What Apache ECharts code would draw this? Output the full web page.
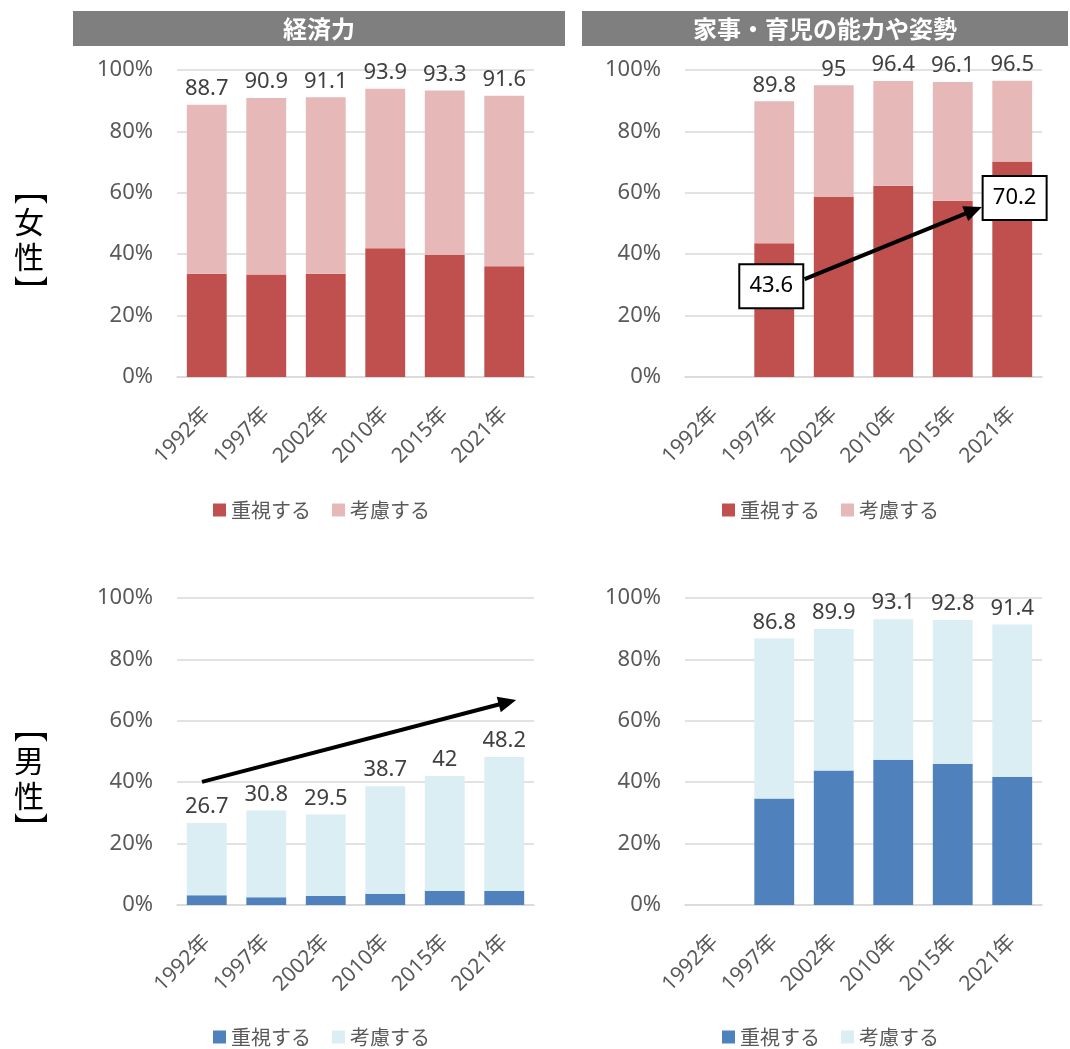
<!DOCTYPE html>
<html><head><meta charset="utf-8">
<script src="https://cdn.jsdelivr.net/npm/echarts@6/dist/echarts.min.js"></script>
<style>html,body{margin:0;padding:0;background:#fff}#c{width:1070px;height:1049px}</style>
</head><body><div id="c"></div>
<script>
// ---- data ----
const years = ['1992年','1997年','2002年','2010年','2015年','2021年'];
const seriesNames = ['重視する','考慮する'];
const panelTitles = ['経済力','家事・育児の能力や姿勢'];
const sideLabels = ['女\n性','男\n性'];
const yTicks = [0,20,40,60,80,100];

const econFemaleEmph  = [33.6, 33.4, 33.6, 41.9, 39.7, 36.1];
const econFemaleTotal = [88.7, 90.9, 91.1, 93.9, 93.3, 91.6];
const houseFemaleEmph  = [null, 43.6, 58.6, 62.3, 57.4, 70.2];
const houseFemaleTotal = [null, 89.8, 95, 96.4, 96.1, 96.5];
const econMaleEmph  = [3.2, 2.5, 2.9, 3.7, 4.6, 4.6];
const econMaleTotal = [26.7, 30.8, 29.5, 38.7, 42, 48.2];
const houseMaleEmph  = [null, 34.7, 43.8, 47.3, 46.0, 41.8];
const houseMaleTotal = [null, 86.8, 89.9, 93.1, 92.8, 91.4];

const calloutStart = 43.6;
const calloutEnd = 70.2;

// ---- styling ----
const RED = '#C0504D', PINK = '#E6B9B8', BLUE = '#4F81BD', LBLUE = '#DAEEF3';
const FONT = '"Noto Sans","Noto Sans CJK JP",sans-serif';
const CJK = '"Noto Sans CJK JP","Noto Sans",sans-serif';
const GRID_W = 357, GRID_H = 307;
const grids = [
  {left:177, top:70,  width:GRID_W, height:GRID_H},
  {left:685, top:70,  width:GRID_W, height:GRID_H},
  {left:177, top:598, width:GRID_W, height:GRID_H},
  {left:685, top:598, width:GRID_W, height:GRID_H}
];
const panels = [
  {emph: econFemaleEmph,  total: econFemaleTotal,  c1: RED,  c2: PINK},
  {emph: houseFemaleEmph, total: houseFemaleTotal, c1: RED,  c2: PINK},
  {emph: econMaleEmph,    total: econMaleTotal,    c1: BLUE, c2: LBLUE},
  {emph: houseMaleEmph,   total: houseMaleTotal,   c1: BLUE, c2: LBLUE}
];

const xAxis = [], yAxis = [], series = [], legend = [];
const legendPos = [{left:208, top:495},{left:717, top:495},{left:208, top:1022},{left:717, top:1022}];
panels.forEach((p, g) => {
  xAxis.push({
    type:'category', gridIndex:g, data: years,
    axisLine:{lineStyle:{color:'#d9d9d9', width:1.5}},
    axisTick:{show:false},
    axisLabel:{rotate:45, fontSize:21, color:'#595959', fontFamily:FONT, margin:34, interval:0}
  });
  yAxis.push({
    type:'value', gridIndex:g, min:yTicks[0], max:yTicks[yTicks.length-1], interval:20,
    axisLine:{show:false}, axisTick:{show:false},
    splitLine:{lineStyle:{color:'#d9d9d9', width:1.5}},
    axisLabel:{formatter: v => v + '%', fontSize:22, color:'#595959', fontFamily:FONT, margin:24}
  });
  const consider = p.total.map((t, i) => t == null ? null : +(t - p.emph[i]).toFixed(1));
  series.push({
    type:'bar', name: seriesNames[0], xAxisIndex:g, yAxisIndex:g, stack:'s'+g,
    data: p.emph, barCategoryGap:'33%', itemStyle:{color:p.c1}
  });
  series.push({
    type:'bar', name: seriesNames[1], xAxisIndex:g, yAxisIndex:g, stack:'s'+g,
    data: consider, barCategoryGap:'33%', itemStyle:{color:p.c2},
    label:{show:true, position:'top', distance:5, fontSize:22, color:'#404040', fontFamily:FONT,
      formatter: prm => p.total[prm.dataIndex] == null ? '' : String(p.total[prm.dataIndex])}
  });
  legend.push({
    left: legendPos[g].left, top: legendPos[g].top, orient:'horizontal',
    icon:'rect', itemWidth:13, itemHeight:13, itemGap:21, selectedMode:false,
    textStyle:{fontSize:20, color:'#595959', fontFamily:CJK},
    data: [{name:seriesNames[0], itemStyle:{color:p.c1}}, {name:seriesNames[1], itemStyle:{color:p.c2}}]
  });
});

const chart = echarts.init(document.getElementById('c'), null, {renderer:'canvas'});
chart.setOption({
  animation:false,
  backgroundColor:'#fff',
  grid: grids, xAxis, yAxis, series, legend
});

// ---- annotations ----
function px(g, catPos, val) {
  const a = chart.convertToPixel({gridIndex:g}, [0, val]);
  const b = chart.convertToPixel({gridIndex:g}, [1, val]);
  return [a[0] + catPos * (b[0] - a[0]), a[1]];
}
function arrow(p0, p1, w) {
  const dx = p1[0]-p0[0], dy = p1[1]-p0[1], L = Math.hypot(dx, dy);
  const ux = dx/L, uy = dy/L, hl = 18, hw = 8;
  const bx = p1[0]-ux*hl, by = p1[1]-uy*hl;
  return [
    {type:'line', z:100, shape:{x1:p0[0], y1:p0[1], x2:bx+ux*2, y2:by+uy*2}, style:{stroke:'#000', lineWidth:w}},
    {type:'polygon', z:100, shape:{points:[[p1[0],p1[1]],[bx-uy*hw, by+ux*hw],[bx+uy*hw, by-ux*hw]]}, style:{fill:'#000'}}
  ];
}
function box(c, text) {
  const w = 64, h = 44;
  return [
    {type:'rect', z:101, shape:{x:c[0]-w/2, y:c[1]-h/2, width:w, height:h}, style:{fill:'#fff', stroke:'#000', lineWidth:2}},
    {type:'text', z:102, style:{x:c[0], y:c[1], text:text, align:'center', verticalAlign:'middle', fontSize:22, fill:'#000', fontFamily:FONT}}
  ];
}
// vertical-writing lenticular bracket (︻ / ︼) drawn as a polygon
function bracket(cx, yEdge, dir) {
  const hw = 16, t = 9, m = 3, n = 12;
  const pts = [[cx-hw, yEdge], [cx+hw, yEdge]];
  for (let k = 0; k <= n; k++) {
    const u = k / n;                  // 0..1 from right to left
    const x = cx + hw - 2*hw*u;
    const s = Math.abs(2*u - 1);      // 1 at ends, 0 in middle
    const th = m + (t - m) * Math.pow(s, 6);
    pts.push([x, yEdge + dir*th]);
  }
  return {type:'polygon', shape:{points:pts}, style:{fill:'#000'}};
}
const graphics = [];
// panel headers
[[73,565],[582,1068]].forEach((r, i) => {
  graphics.push({type:'rect', shape:{x:r[0], y:11, width:r[1]-r[0], height:35}, style:{fill:'#7f7f7f'}});
  graphics.push({type:'text', style:{x:(r[0]+r[1])/2, y:29, text:panelTitles[i], align:'center', verticalAlign:'middle',
    fontSize:24, fontWeight:'bold', fill:'#fff', fontFamily:CJK}});
});
// side labels
[[239, 195, 285],[778, 733, 822]].forEach((r, i) => {
  graphics.push({type:'text', style:{x:29, y:r[0], text:sideLabels[i], align:'center', verticalAlign:'middle',
    fontSize:30, lineHeight:35, fill:'#000', fontFamily:CJK}});
  graphics.push(bracket(31, r[1], 1));
  graphics.push(bracket(31, r[2], -1));
});
// top-right callout arrow
graphics.push(...arrow(px(1, 1.51, 31.9), px(1, 4.49, 55.4), 4));
graphics.push(...box(px(1, 0.95, 29.6), String(calloutStart)));
graphics.push(...box(px(1, 5.04, 58.3), String(calloutEnd)));
// bottom-left trend arrow
graphics.push(...arrow(px(2, -0.08, 40.1), px(2, 5.2, 66.8), 4));

chart.setOption({graphic: graphics});
</script>
</body></html>
